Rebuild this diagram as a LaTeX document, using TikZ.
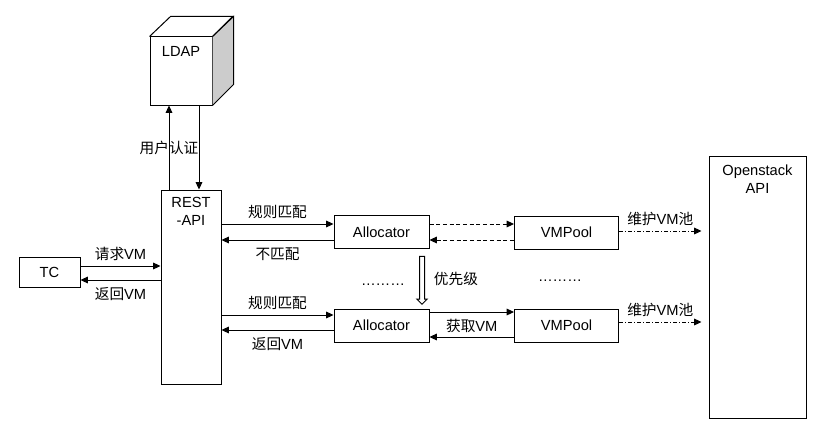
\documentclass[tikz,border=0pt]{standalone}
\usepackage{fontspec}
\setmainfont{Liberation Sans}
\newfontfamily\cjk{Noto Sans CJK SC}
\usetikzlibrary{arrows.meta,calc,shapes.arrows}

\begin{document}
\begin{tikzpicture}[x=0.75pt,y=-0.75pt,
  font=\fontsize{11}{13.5}\selectfont, line width=0.75pt,
  >={Triangle[length=5.5pt,width=5pt]},
  box/.style={draw, inner sep=0pt},
  dashline/.style={dash pattern=on 3pt off 2pt},
  dashdotline/.style={dash pattern=on 3pt off 1.5pt on 0.75pt off 1.5pt}]
\useasboundingbox (0,0) rectangle (816,428);

% boxes
\node [box, minimum width=46.5pt, minimum height=51pt] (ldap) at (181,71) {};
\fill [gray!40] (ldap.north east)--++(21,-20)--++(0,68)--(ldap.south east)--cycle;
\draw (ldap.north east)--++(21,-20)--++(0,68)--(ldap.south east);
\draw (ldap.north west)--++(21,-20)--++(62,0)--(ldap.north east);
\node (ldaptext) at ($(ldap.north)+(0,15)$) {LDAP};

\node [box, minimum width=45pt, minimum height=145.5pt] (rest) at (191,287) {};
\node [anchor=north, align=center] (resttext) at ($(rest.north)+(0,3)$) {REST\\-API};
\node [box, minimum width=45.75pt, minimum height=22.5pt] (tc) at (49.5,272) {TC};
\node [box, minimum width=71.25pt, minimum height=24.75pt] (alloc1) at (381.5,232) {Allocator};
\node [box, minimum width=71.25pt, minimum height=24.75pt] (alloc2) at (381.5,325.5) {Allocator};
\node [box, minimum width=78pt, minimum height=24.75pt] (pool1) at (566.5,232.5) {VMPool};
\node [box, minimum width=78pt, minimum height=24.75pt] (pool2) at (566.5,325.5) {VMPool};
\node [box, minimum width=72.75pt, minimum height=196.5pt] (os) at (757.5,287) {};
\node [anchor=north, align=center] (ostext) at ($(os.north)+(0,4)$) {Openstack\\API};

% LDAP
\coordinate (auth) at ($(rest.north)+(-22,0)$);
\coordinate (back) at ($(ldap.south)+(18,0)$);
\draw [->] (auth) -- node {\cjk 用户认证} (auth |- ldap.south);
\draw [->] (back) -- (back |- rest.north);

% TC
\draw [->] ($(tc.east)+(0,-6)$) -- node [above] {{\cjk 请求}VM} ($(tc.east -| rest.west)+(0,-6)$);
\draw [<-] ($(tc.east)+(0,8)$) -- node [below=2pt] {{\cjk 返回}VM} ($(tc.east -| rest.west)+(0,8)$);

% first allocator
\draw [->] ($(alloc1.west -| rest.east)+(0,-8)$) -- node [above] {\cjk 规则匹配} ($(alloc1.west)+(0,-8)$);
\draw [<-] ($(alloc1.west -| rest.east)+(0,8)$) -- node [below=2pt] {\cjk 不匹配} ($(alloc1.west)+(0,8)$);
\draw [dashline, ->] ($(alloc1.east)+(0,-8)$) -- ($(alloc1.east -| pool1.west)+(0,-8)$);
\draw [dashline, <-] ($(alloc1.east)+(0,8)$) -- ($(alloc1.east -| pool1.west)+(0,8)$);

% priority
\node [draw, single arrow, shape border rotate=270, inner sep=1.5pt, minimum height=36pt,
  single arrow head extend=2pt, single arrow head indent=0pt] (prio) at (422,279) {};
\node [anchor=west] (priotext) at ($(prio.east)+(4,0)$) {\cjk 优先级};
\node (dots1) at (383,285) {………};
\node (dots2) at (560,281) {………};

% second allocator
\draw [->] ($(alloc2.west -| rest.east)+(0,-10.5)$) -- node [above] {\cjk 规则匹配} ($(alloc2.west)+(0,-10.5)$);
\draw [<-] ($(alloc2.west -| rest.east)+(0,4.5)$) -- node [below=2pt] {{\cjk 返回}VM} ($(alloc2.west)+(0,4.5)$);
\draw [->] ($(alloc2.east)+(0,-13.5)$) -- node [below=2pt] {{\cjk 获取}VM} ($(alloc2.east -| pool2.west)+(0,-13.5)$);
\draw [<-] ($(alloc2.east)+(0,11.5)$) -- ($(alloc2.east -| pool2.west)+(0,11.5)$);

% openstack
\coordinate (os1) at ($(pool1.east -| os.west)+(-7,-1.5)$);
\coordinate (os2) at ($(pool2.east -| os.west)+(-7,-3.5)$);
\draw [dashdotline, ->] ($(pool1.east)+(0,-1.5)$) -- node [above] {{\cjk 维护}VM{\cjk 池}} (os1);
\draw [dashdotline, ->] ($(pool2.east)+(0,-3.5)$) -- node [above] {{\cjk 维护}VM{\cjk 池}} (os2);
\end{tikzpicture}
\end{document}
